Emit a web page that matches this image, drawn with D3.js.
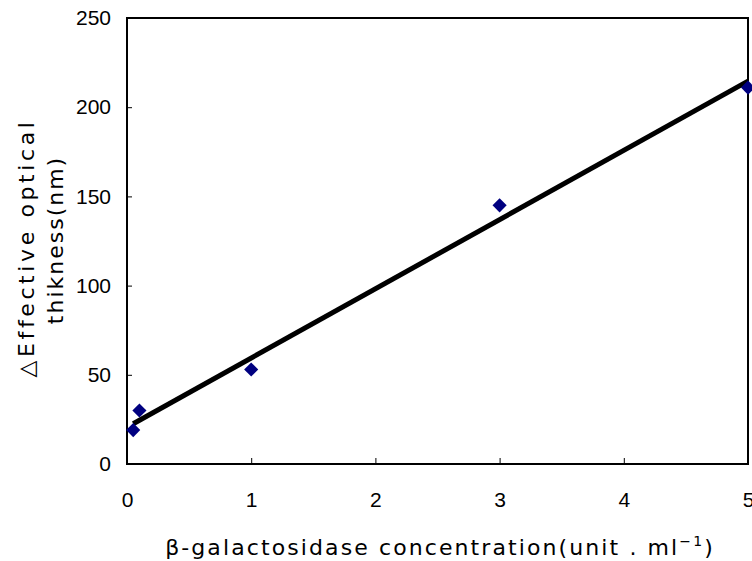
<!DOCTYPE html>
<html>
<head>
<meta charset="utf-8">
<script src="https://cdn.jsdelivr.net/npm/d3@7"></script>
<style>
  body { margin: 0; background: #fff; }
  text { fill: #000; }
  .tick text { font-family: "Liberation Sans", Arial, sans-serif; font-size: 21px; }
  .title { font-family: "DejaVu Sans", sans-serif; font-size: 22px; }
</style>
</head>
<body>
<script>
var concentration = [0.05, 0.1, 1, 3, 5];
var thickness = [19, 30, 53, 145, 211];
var xTicks = [0, 1, 2, 3, 4, 5];
var yTicks = [0, 50, 100, 150, 200, 250];

var margin = {top: 18, right: 3, bottom: 97, left: 127},
    width = 752 - margin.left - margin.right,
    height = 561 - margin.top - margin.bottom;

var x = d3.scaleLinear().domain([0, 5]).range([0, width - 1]);
var y = d3.scaleLinear().domain([0, 250]).range([height, 0]);

var svg = d3.select("body").append("svg")
    .attr("width", 752)
    .attr("height", 561)
  .append("g")
    .attr("transform", "translate(" + margin.left + "," + margin.top + ")");

// linear trendline (least squares)
var mx = d3.mean(concentration), my = d3.mean(thickness);
var sxy = d3.sum(concentration, function(d, i) { return (d - mx) * (thickness[i] - my); });
var sxx = d3.sum(concentration, function(d) { return (d - mx) * (d - mx); });
var slope = sxy / sxx, intercept = my - slope * mx;

var xAxis = d3.axisBottom(x).tickValues(xTicks).tickSize(-6).tickPadding(28).tickFormat(d3.format("d"));
var yAxis = d3.axisLeft(y).tickValues(yTicks).tickSize(-5).tickPadding(16).tickFormat(d3.format("d"));

svg.append("g")
    .attr("transform", "translate(0," + height + ")")
    .call(xAxis)
    .call(function(g) {
      g.select(".domain").remove();
      g.selectAll("line").attr("stroke", "#000");
    });

svg.append("g")
    .call(yAxis)
    .call(function(g) {
      g.select(".domain").remove();
      g.selectAll("line").attr("stroke", "#000");
    });

// frame
svg.append("rect")
    .attr("x", 0).attr("y", 0)
    .attr("width", width - 1).attr("height", height)
    .attr("fill", "none")
    .attr("stroke", "#000")
    .attr("stroke-width", 2);

svg.append("line")
    .attr("x1", x(concentration[0]))
    .attr("y1", y(slope * concentration[0] + intercept))
    .attr("x2", x(concentration[concentration.length - 1]))
    .attr("y2", y(slope * concentration[concentration.length - 1] + intercept))
    .attr("stroke", "#000")
    .attr("stroke-width", 5);

svg.selectAll(".dot")
    .data(concentration)
  .enter().append("path")
    .attr("class", "dot")
    .attr("d", d3.symbol().type(d3.symbolSquare).size(100))
    .attr("transform", function(d, i) { return "translate(" + x(d) + "," + y(thickness[i]) + ") rotate(45)"; })
    .attr("fill", "#000080");

// axis titles
var xl = svg.append("text")
    .attr("class", "title")
    .attr("x", 440 - margin.left)
    .attr("y", 555 - margin.top)
    .attr("text-anchor", "middle")
    .style("letter-spacing", "2.1px");
xl.append("tspan").text("β-galactosidase concentration(unit . ml");
xl.append("tspan").attr("dy", -9).style("font-size", "14px").text("−1");
xl.append("tspan").attr("dy", 9).text(")");

var yl = svg.append("text")
    .attr("class", "title")
    .attr("transform", "translate(" + (34 - margin.left) + "," + (248 - margin.top) + ") rotate(-90)")
    .attr("text-anchor", "middle")
    .style("letter-spacing", "3.6px");
yl.append("tspan").attr("x", 0).attr("dy", 0).text("△Effective optical");
yl.append("tspan").attr("x", 8).attr("dy", 29).style("letter-spacing", "2px").text("thikness(nm)");
</script>
</body>
</html>
